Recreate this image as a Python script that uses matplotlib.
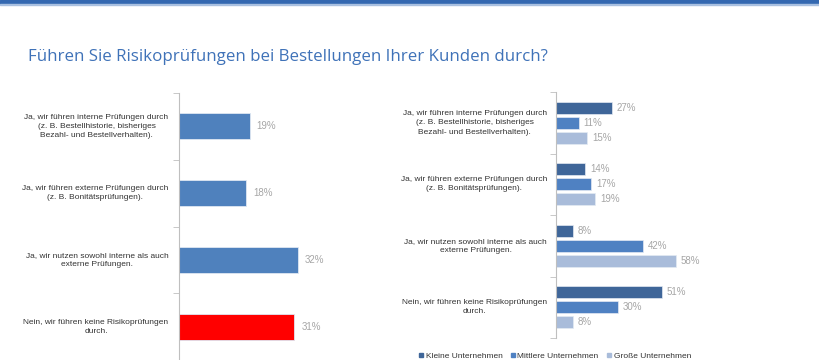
import matplotlib.pyplot as plt
from matplotlib.lines import Line2D
from matplotlib.patches import Rectangle

categories = [
    "Ja, wir führen interne Prüfungen durch\n(z. B. Bestellhistorie, bisheriges\nBezahl- und Bestellverhalten).",
    "Ja, wir führen externe Prüfungen durch\n(z. B. Bonitätsprüfungen).",
    "Ja, wir nutzen sowohl interne als auch\nexterne Prüfungen.",
    "Nein, wir führen keine Risikoprüfungen\ndurch.",
]
gesamt = [19, 18, 32, 31]
kleine = [27, 14, 8, 51]
mittlere = [11, 17, 42, 30]
grosse = [15, 19, 58, 8]
series_names = ["Kleine Unternehmen", "Mittlere Unternehmen", "Große Unternehmen"]

title = "Führen Sie Risikoprüfungen bei Bestellungen Ihrer Kunden durch?"

plt.rcParams["font.family"] = ["Liberation Sans", "DejaVu Sans"]

fig = plt.figure(figsize=(8.2, 3.6), dpi=100)

# top band
fig.patches.append(Rectangle((0, 1 - 3.5 / 360), 1, 3.5 / 360, transform=fig.transFigure,
                             color="#3468b0", zorder=0))
fig.patches.append(Rectangle((0, 1 - 5 / 360), 1, 1.5 / 360, transform=fig.transFigure,
                             color="#a9c0e0", zorder=0))

fig.text(28 / 820, 1 - 57 / 360, title, fontsize=12.2, color="#3f72b8",
         family=["Open Sans", "DejaVu Sans"], va="center", ha="left")

label_color = "#333333"
value_color = "#a6a6a6"
axis_color = "#bfbfbf"


def style_axis(ax, n):
    for s in ["top", "right", "bottom"]:
        ax.spines[s].set_visible(False)
    ax.spines["left"].set_color(axis_color)
    ax.set_xticks([])
    ax.set_yticks([])
    ax.set_yticks([i - 0.5 for i in range(n + 1)], minor=True)
    ax.tick_params(axis="y", which="minor", length=4, color=axis_color, direction="out")
    ax.set_ylim(n - 0.5, -0.5)
    ax.patch.set_alpha(0)


# left chart: total
ax1 = fig.add_axes([179 / 820, 0, 200 / 820, 267 / 360])
y = list(range(len(categories)))
colors1 = ["#4f81bd", "#4f81bd", "#4f81bd", "#ff0000"]
ax1.barh(y, gesamt, height=0.39, color=colors1, edgecolor="#dfe7f2", linewidth=0.6)
ax1.set_xlim(0, 200 / 3.72)
style_axis(ax1, len(categories))
for i, v in enumerate(gesamt):
    ax1.annotate(f"{v}%", xy=(v, i), xytext=(5, 0), textcoords="offset points",
                 ha="left", va="center", fontsize=7, color=value_color)
for i, c in enumerate(categories):
    ax1.annotate(c, xy=(0, i), xycoords=("axes fraction", "data"), xytext=(-7.5, 0),
                 textcoords="offset points", ha="right", va="center",
                 multialignment="center", fontsize=6, color=label_color, linespacing=1.45)

# right chart: by company size
ax2 = fig.add_axes([556 / 820, 22 / 360, 200 / 820, 246 / 360])
colors2 = ["#3f6699", "#4f81c2", "#a9bcda"]
off = 15 / 61.5
h = 12 / 61.5
for k, vals in enumerate([kleine, mittlere, grosse]):
    pos = [i + (k - 1) * off for i in y]
    ax2.barh(pos, vals, height=h, color=colors2[k], edgecolor="#e4eaf3", linewidth=0.5)
    for p, v in zip(pos, vals):
        ax2.annotate(f"{v}%", xy=(v, p), xytext=(3.5, 0), textcoords="offset points",
                     ha="left", va="center", fontsize=7, color=value_color)
ax2.set_xlim(0, 200 / 2.07)
style_axis(ax2, len(categories))
for i, c in enumerate(categories):
    ax2.annotate(c, xy=(0, i), xycoords=("axes fraction", "data"), xytext=(-6.5, 0),
                 textcoords="offset points", ha="right", va="center",
                 multialignment="center", fontsize=6, color=label_color, linespacing=1.45)

handles = [Line2D([], [], marker="s", linestyle="", markersize=3.5, color=c) for c in colors2]
fig.legend(handles, series_names, loc="center", bbox_to_anchor=(555 / 820, 4 / 360),
           ncol=3, frameon=False, fontsize=6, handlelength=0.5, handletextpad=0.3,
           columnspacing=1.0, labelcolor=label_color, borderpad=0)

fig.savefig("out.png", dpi=100)
